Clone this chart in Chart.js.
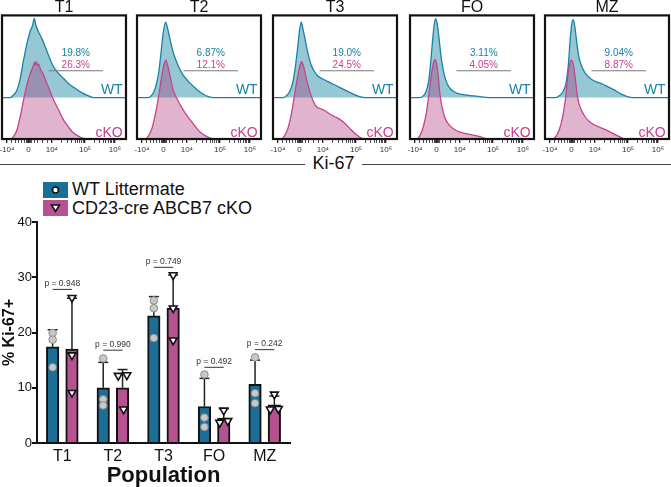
<!DOCTYPE html>
<html><head><meta charset="utf-8">
<script src="https://cdn.jsdelivr.net/npm/chart.js@4.4.0/dist/chart.umd.min.js"></script>
<style>
html,body{margin:0;padding:0;background:#fff;}
body{width:671px;height:487px;position:relative;overflow:hidden;font-family:'Liberation Sans',Arial,sans-serif;color:#111;}
canvas{position:absolute;}
.kiline{position:absolute;left:0;top:164px;width:671px;height:0;border-top:1.5px solid #444;}
.kilab{position:absolute;top:153px;left:305px;width:57px;text-align:center;background:#fff;font-size:18px;line-height:20px;color:#111;}
.leg{position:absolute;left:43px;width:25px;height:16px;}
.leg svg{position:absolute;left:0;top:0;}
.legtxt{position:absolute;left:72px;font-size:18px;line-height:18px;color:#111;white-space:nowrap;}
</style></head><body>
<canvas id="h0" width="152" height="160" style="left:-12px;top:0"></canvas>
<canvas id="h1" width="152" height="160" style="left:123px;top:0"></canvas>
<canvas id="h2" width="152" height="160" style="left:259px;top:0"></canvas>
<canvas id="h3" width="152" height="160" style="left:396px;top:0"></canvas>
<canvas id="h4" width="152" height="160" style="left:531px;top:0"></canvas>
<div class="kiline"></div>
<div class="kilab">Ki-67</div>
<div class="leg" style="top:182px;background:#1b6f96"><svg width="25" height="16"><circle cx="12.5" cy="8" r="3" fill="#fff" stroke="#111" stroke-width="1.6"/></svg></div>
<div class="legtxt" style="top:180px">WT Littermate</div>
<div class="leg" style="top:200px;background:#b5528f"><svg width="25" height="16"><polygon points="8.5,5 16.5,5 12.5,11.5" fill="#fff" stroke="#111" stroke-width="1.6"/></svg></div>
<div class="legtxt" style="top:199px">CD23-cre ABCB7 cKO</div>
<canvas id="bar" width="300" height="282" style="left:0;top:205px"></canvas>
<script>
// ---------------- data ----------------
const panelNames = ['T1','T2','T3','FO','MZ'];
const wtPercent = ['19.8%','6.87%','19.0%','3.11%','9.04%'];
const koPercent = ['26.3%','12.1%','24.5%','4.05%','8.87%'];

// histogram curves: [axis position (% of display), height (% of panel)]
const histWT_T1 = [[0,0],[6.7,0],[9.4,2.2],[12.1,6.2],[14.7,15.6],[17.4,30.3],[20.1,43.7],[22.8,53.9],[24.7,58.5],[26,64.1],[27.3,58.5],[29.5,53.1],[32.2,47.7],[34.9,41],[37.5,34.3],[40.2,27.6],[42.9,22.8],[46.9,18.2],[50.9,14.2],[55,10.2],[59,7.5],[64.3,4],[69.7,1.4],[73.7,0],[100,0]];
const histKO_T1 = [[0,0],[6.7,0],[9.4,2.1],[12.1,7.5],[14.7,18.2],[17.4,31.6],[20.1,43.7],[22.8,53.1],[25.5,59.8],[26.2,62],[26.8,60],[27.6,62.5],[28.7,59.5],[29.5,60.5],[30.8,57.1],[33.5,51.7],[36.2,45],[38.9,38.3],[41.6,31.6],[45.6,23.6],[49.6,15.5],[53.6,9.7],[57.6,4.8],[63,1.6],[68.4,0],[100,0]];
const histWT_T2 = [[0,0],[9.4,0],[12.1,2.2],[14.7,7.5],[17.4,19.6],[19.3,35.7],[20.9,50.4],[23.1,61.1],[24.7,55.8],[26.8,46.4],[29.5,35.7],[32.2,28.2],[34.9,22.3],[37.5,17.7],[41.6,12.9],[45.6,8.9],[49.6,5.4],[53.6,2.7],[57.6,0.8],[61.7,0],[100,0]];
const histKO_T2 = [[0,0],[6.7,0],[9.4,2.7],[12.1,8.8],[14.7,19.6],[17.4,34.3],[20.1,51.7],[22,61.1],[23.3,63.8],[24.9,59],[26.8,50.4],[29,40.2],[31.6,33.8],[34.9,27.6],[38.9,20.9],[42.9,15.5],[46.9,10.2],[50.9,5.6],[55,2.7],[60.3,0.3],[64.3,0],[100,0]];
const histWT_T3 = [[0,0],[8,0],[10.7,1.4],[13.4,4.8],[16.1,12.9],[18.2,26.3],[20.1,42.4],[21.4,54.4],[22.8,61.1],[24.1,55.8],[26.3,45.1],[28.2,35.7],[30.8,26.3],[33.5,20.9],[36.2,17.4],[40.2,15],[44.2,12.9],[48.3,11],[53.6,8.3],[59,5.6],[64.3,3],[69.7,0.8],[75.1,0],[100,0]];
const histKO_T3 = [[0,0],[6.7,0],[9.4,2.7],[12.1,8.8],[14.7,19.6],[17.4,35.7],[20.1,51.7],[22.3,61.1],[23.3,62.5],[24.9,57.9],[26.8,49.1],[29.5,39.1],[32.2,31.1],[34.9,26.3],[37.5,24.9],[41.6,23.1],[45.6,20.4],[49.6,18.2],[53.6,16.1],[57.6,12.9],[61.7,8.8],[65.7,4.8],[69.7,1.6],[73.7,0],[100,0]];
const histWT_FO = [[0,0],[8,0],[10.7,1.4],[12.9,4.8],[15,12.9],[16.6,27.6],[18,43.7],[19.3,57.1],[20.6,63.8],[22,59.3],[23.3,49.1],[24.9,34.3],[26.8,22.3],[29,13.7],[31.6,8.3],[34.9,5.1],[38.9,3.2],[44.2,2.2],[50.9,1.4],[57.6,0.6],[63,0],[100,0]];
const histKO_FO = [[0,0],[5.4,0],[8,2.7],[10.7,9.7],[13.4,22.3],[15.5,38.3],[17.4,53.1],[19,61.7],[20.1,64.3],[21.4,61.1],[22.8,50.4],[24.1,37],[25.7,26.3],[27.6,18.8],[30,13.4],[32.7,10.2],[36.2,7.5],[40.2,5.6],[45.6,4.3],[50.9,3.2],[56.3,1.9],[61.7,0.3],[64.3,0],[100,0]];
const histWT_MZ = [[0,0],[8.8,0],[11.5,1.4],[14.2,4.3],[16.9,11.5],[18.8,26.3],[20.1,43.7],[21.4,58.5],[22.8,63],[24.1,57.1],[25.7,43.7],[27.3,33],[29.5,25.5],[32.2,20.1],[34.9,16.9],[38.3,14.2],[42.4,12.3],[46.4,11],[50.4,8.9],[55.8,6.2],[61.1,3],[66.5,0.8],[70.5,0],[100,0]];
const histKO_MZ = [[0,0],[6.2,0],[8.8,2.1],[11.5,7.5],[14.2,17.7],[16.4,31.6],[18.2,49.1],[19.8,59.8],[21.4,63.8],[22.8,60.3],[24.4,49.1],[25.7,37.5],[27.3,29],[29.5,23.1],[32.2,18.2],[35.7,14.2],[39.7,11.5],[43.7,9.7],[47.7,8],[53.1,5.4],[58.4,2.7],[63.3,0.3],[65.9,0],[100,0]];
const histWT = [histWT_T1, histWT_T2, histWT_T3, histWT_FO, histWT_MZ];
const histKO = [histKO_T1, histKO_T2, histKO_T3, histKO_FO, histKO_MZ];

// flow axis ticks
const flowTickValues = [4, 21.4, 40.2, 67, 91];
const flowTickLabels = ['-10\u2074','0','10\u2074','10\u2075','10\u2076'];
const flowMinorTicks = [8, 11, 13.5, 16, 18, 19.5, 20.3, 22.2, 23, 24, 26, 29, 33, 37, 48.3, 53, 56.3, 58.9, 61, 62.8, 64.3, 65.8, 74.2, 78.5, 81.5, 83.8, 85.7, 87.3, 88.7, 89.9];

// bar chart
const populations = ['T1','T2','T3','FO','MZ'];
const wtMean = [17.4, 10.0, 23.0, 6.6, 10.6];
const koMean = [17.0, 10.0, 24.4, 4.5, 6.9];
const wtMeanPlusSD = [20.5, 14.6, 26.5, 11.7, 15.0];
const koMeanPlusSD = [26.2, 13.3, 30.4, 6.2, 8.5];
const wtPoints = [[19.9, 18.7, 13.7],[15.3, 7.9, 6.8],[25.8, 24.4, 19.0],[12.4, 4.6, 2.9],[15.5, 9.0, 7.2]];
const koPoints = [[26.3, 15.9, 9.1],[12.2, 12.3, 6.1],[30.4, 24.4, 18.6],[5.9, 3.7, 4.0],[8.8, 6.1, 6.2]];
const pValues = ['0.948','0.990','0.749','0.492','0.242'];
const pLineLevel = [27.8, 16.8, 31.8, 13.7, 16.9];
const yTickValues = [0, 10, 20, 30, 40];

// ---------------- styles ----------------
const F = "'Liberation Sans', Arial, sans-serif";
Chart.defaults.font.family = F;
Chart.defaults.animation = false;
const TEAL = '#1782a8', TEAL_FILL = '#96c8d4';
const PINK = '#c8418f', PINK_FILL = 'rgba(169,41,112,0.35)';
const WT_BAR = '#1b6f96', KO_BAR = '#b5528f';
const WT_BASE = 33.5;
const gate = {x1: 37.5, x2: 81.5, y: 55.2};
const barOffset = 0.191;
const koJitter = [[0,0,0],[-0.085,0.085,0.02],[0,0,0],[0,-0.08,0.08],[0,-0.08,0.08]];

const boxPlugin = {
  id: 'box',
  afterDatasetsDraw(chart) {
    const a = chart.chartArea, ctx = chart.ctx;
    ctx.save(); ctx.strokeStyle = '#111'; ctx.lineWidth = 2.2;
    ctx.strokeRect(a.left, a.top, a.right - a.left, a.bottom - a.top);
    ctx.restore();
  }
};

function makePanel(i) {
  const textPlugin = {
    id: 'ptext' + i,
    afterDatasetsDraw(chart) {
      const ctx = chart.ctx, xs = chart.scales.x, ys = chart.scales.y;
      ctx.save();
      ctx.textBaseline = 'middle';
      ctx.textAlign = 'center';
      ctx.font = '10px ' + F;
      ctx.fillStyle = TEAL; ctx.fillText(wtPercent[i], xs.getPixelForValue(59.5), ys.getPixelForValue(69.2));
      ctx.fillStyle = PINK; ctx.fillText(koPercent[i], xs.getPixelForValue(59.5), ys.getPixelForValue(59.6));
      ctx.textAlign = 'right';
      ctx.font = '14px ' + F;
      ctx.fillStyle = TEAL; ctx.fillText('WT', xs.getPixelForValue(97.3), ys.getPixelForValue(39.5));
      ctx.fillStyle = PINK; ctx.fillText('cKO', xs.getPixelForValue(97.3), ys.getPixelForValue(4.8));
      ctx.restore();
    }
  };
  const allTicks = flowTickValues.concat(flowMinorTicks).sort((a, b) => a - b);
  new Chart(document.getElementById('h' + i), {
    type: 'line',
    data: { datasets: [
      { data: histWT[i].map(p => ({x: p[0], y: p[1] + WT_BASE})), borderColor: TEAL, backgroundColor: TEAL_FILL,
        fill: {value: WT_BASE}, borderWidth: 1.3, pointRadius: 0, cubicInterpolationMode: 'monotone', order: 3 },
      { data: histKO[i].map(p => ({x: p[0], y: p[1]})), borderColor: PINK, backgroundColor: PINK_FILL,
        fill: {value: 0}, borderWidth: 1.3, pointRadius: 0, cubicInterpolationMode: 'monotone', order: 2 },
      { data: [{x: gate.x1, y: gate.y}, {x: gate.x2, y: gate.y}], borderColor: '#7a7a7a', borderWidth: 1.2, pointRadius: 0, fill: false, order: 1 }
    ]},
    options: {
      responsive: false, events: [],
      layout: { padding: { left: 14, right: 14, top: 0, bottom: 0 } },
      plugins: {
        legend: { display: false }, tooltip: { enabled: false },
        title: { display: true, text: panelNames[i], color: '#111', font: { size: 16, lineHeight: 0.9, weight: 'normal' }, padding: { top: 0, bottom: 1 } }
      },
      scales: {
        x: { type: 'linear', min: 0, max: 100,
          afterBuildTicks: s => { s.ticks = allTicks.map(v => ({ value: v })); },
          afterFit: s => { s.height = 21; s.paddingLeft = 0; s.paddingRight = 0; },
          ticks: { autoSkip: false, maxRotation: 0, minRotation: 0, font: { size: 8 }, color: '#333', padding: 2,
            callback: v => { const k = flowTickValues.indexOf(v); return k >= 0 ? flowTickLabels[k] : ''; } },
          grid: { drawOnChartArea: false, drawTicks: true, tickLength: 4, color: '#222',
            lineWidth: c => (flowTickValues.indexOf(c.tick && c.tick.value) >= 0 ? 1.3 : 0.8) },
          border: { display: false } },
        y: { display: false, min: 0, max: 100 }
      }
    },
    plugins: [boxPlugin, textPlugin]
  });
}
for (let i = 0; i < 5; i++) makePanel(i);

// ---------------- bar chart ----------------
const wtBars = [], koBars = [], errSegs = [], errCaps = [], pSegs = [], wtPts = [], koPts = [];
populations.forEach((p, i) => {
  wtBars.push({x: i - barOffset, y: wtMean[i]});
  koBars.push({x: i + barOffset, y: koMean[i]});
  errSegs.push({x: i - barOffset, y: wtMean[i]}, {x: i - barOffset, y: wtMeanPlusSD[i]}, {x: i - barOffset, y: null});
  errSegs.push({x: i + barOffset, y: koMean[i]}, {x: i + barOffset, y: koMeanPlusSD[i]}, {x: i + barOffset, y: null});
  errCaps.push({x: i - barOffset, y: wtMeanPlusSD[i]}, {x: i + barOffset, y: koMeanPlusSD[i]});
  pSegs.push({x: i - barOffset, y: pLineLevel[i]}, {x: i + barOffset, y: pLineLevel[i]}, {x: i + barOffset, y: null});
  wtPoints[i].forEach(v => wtPts.push({x: i - barOffset, y: v}));
  koPoints[i].forEach((v, k) => koPts.push({x: i + barOffset + koJitter[i][k], y: v}));
});

const pTextPlugin = {
  id: 'ptextbar',
  afterDatasetsDraw(chart) {
    const ctx = chart.ctx, xs = chart.scales.xp, ys = chart.scales.y;
    ctx.save();
    ctx.font = '8.5px ' + F; ctx.fillStyle = '#333'; ctx.textAlign = 'center'; ctx.textBaseline = 'bottom';
    pValues.forEach((p, i) => ctx.fillText('p = ' + p, xs.getPixelForValue(i), ys.getPixelForValue(pLineLevel[i]) - 1.5));
    ctx.restore();
  }
};

new Chart(document.getElementById('bar'), {
  type: 'bar',
  data: { labels: populations, datasets: [
    { label: 'WT Littermate', data: wtBars, xAxisID: 'xp', yAxisID: 'y', backgroundColor: WT_BAR, borderColor: '#111', borderWidth: 2,
      grouped: false, barThickness: 12.5, order: 5 },
    { label: 'CD23-cre ABCB7 cKO', data: koBars, xAxisID: 'xp', yAxisID: 'y', backgroundColor: KO_BAR, borderColor: '#111', borderWidth: 2,
      grouped: false, barThickness: 12.5, order: 5 },
    { type: 'line', data: errSegs, xAxisID: 'xp', yAxisID: 'y', borderColor: '#222', borderWidth: 1.5, pointRadius: 0, spanGaps: false, fill: false, order: 4 },
    { type: 'scatter', data: errCaps, xAxisID: 'xp', yAxisID: 'y', pointStyle: 'line', pointRadius: 5, radius: 5,
      borderColor: '#222', pointBorderColor: '#222', borderWidth: 1.5, pointBorderWidth: 1.5, order: 4 },
    { type: 'line', data: pSegs, xAxisID: 'xp', yAxisID: 'y', borderColor: '#333', borderWidth: 1, pointRadius: 0, spanGaps: false, fill: false, order: 4 },
    { type: 'scatter', data: wtPts, xAxisID: 'xp', yAxisID: 'y', pointStyle: 'circle', pointRadius: 3.8, radius: 3.8,
      backgroundColor: '#c8c8c8', pointBackgroundColor: '#c8c8c8', borderColor: '#8a8a8a', pointBorderColor: '#8a8a8a',
      borderWidth: 1, pointBorderWidth: 1, order: 1 },
    { type: 'scatter', data: koPts, xAxisID: 'xp', yAxisID: 'y', pointStyle: 'triangle', rotation: 180, pointRotation: 180,
      pointRadius: 4.5, radius: 4.5, backgroundColor: '#fff', pointBackgroundColor: '#fff',
      borderColor: '#111', pointBorderColor: '#111', borderWidth: 1.6, pointBorderWidth: 1.6, order: 1 }
  ]},
  options: {
    responsive: false, events: [],
    layout: { padding: { left: 0, right: 10, top: 17, bottom: 0 } },
    plugins: { legend: { display: false }, tooltip: { enabled: false } },
    scales: {
      x: { type: 'category', position: 'bottom', offset: true, grid: { display: false, drawTicks: false }, border: { color: '#111', width: 2 },
        ticks: { font: { size: 16 }, color: '#111', padding: 4 },
        title: { display: true, text: 'Population', color: '#111', font: { size: 22, weight: 'bold', lineHeight: 1 }, padding: 0 },
        afterFit: s => { s.height = 44; } },
      xp: { type: 'linear', position: 'bottom', min: -0.5, max: 4.5, offset: false, display: false },
      y: { min: 0, max: 40,
        afterBuildTicks: s => { s.ticks = yTickValues.map(v => ({ value: v })); },
        ticks: { font: { size: 13 }, color: '#111', padding: 0 },
        grid: { drawOnChartArea: false, drawTicks: true, tickLength: 5, color: '#111', lineWidth: 2 },
        border: { color: '#111', width: 2 },
        title: { display: true, text: '% Ki-67+', color: '#111', font: { size: 16, weight: 'bold' }, padding: 0 },
        afterFit: s => { s.width = 37; } }
    }
  },
  plugins: [pTextPlugin]
});
</script>
</body></html>
